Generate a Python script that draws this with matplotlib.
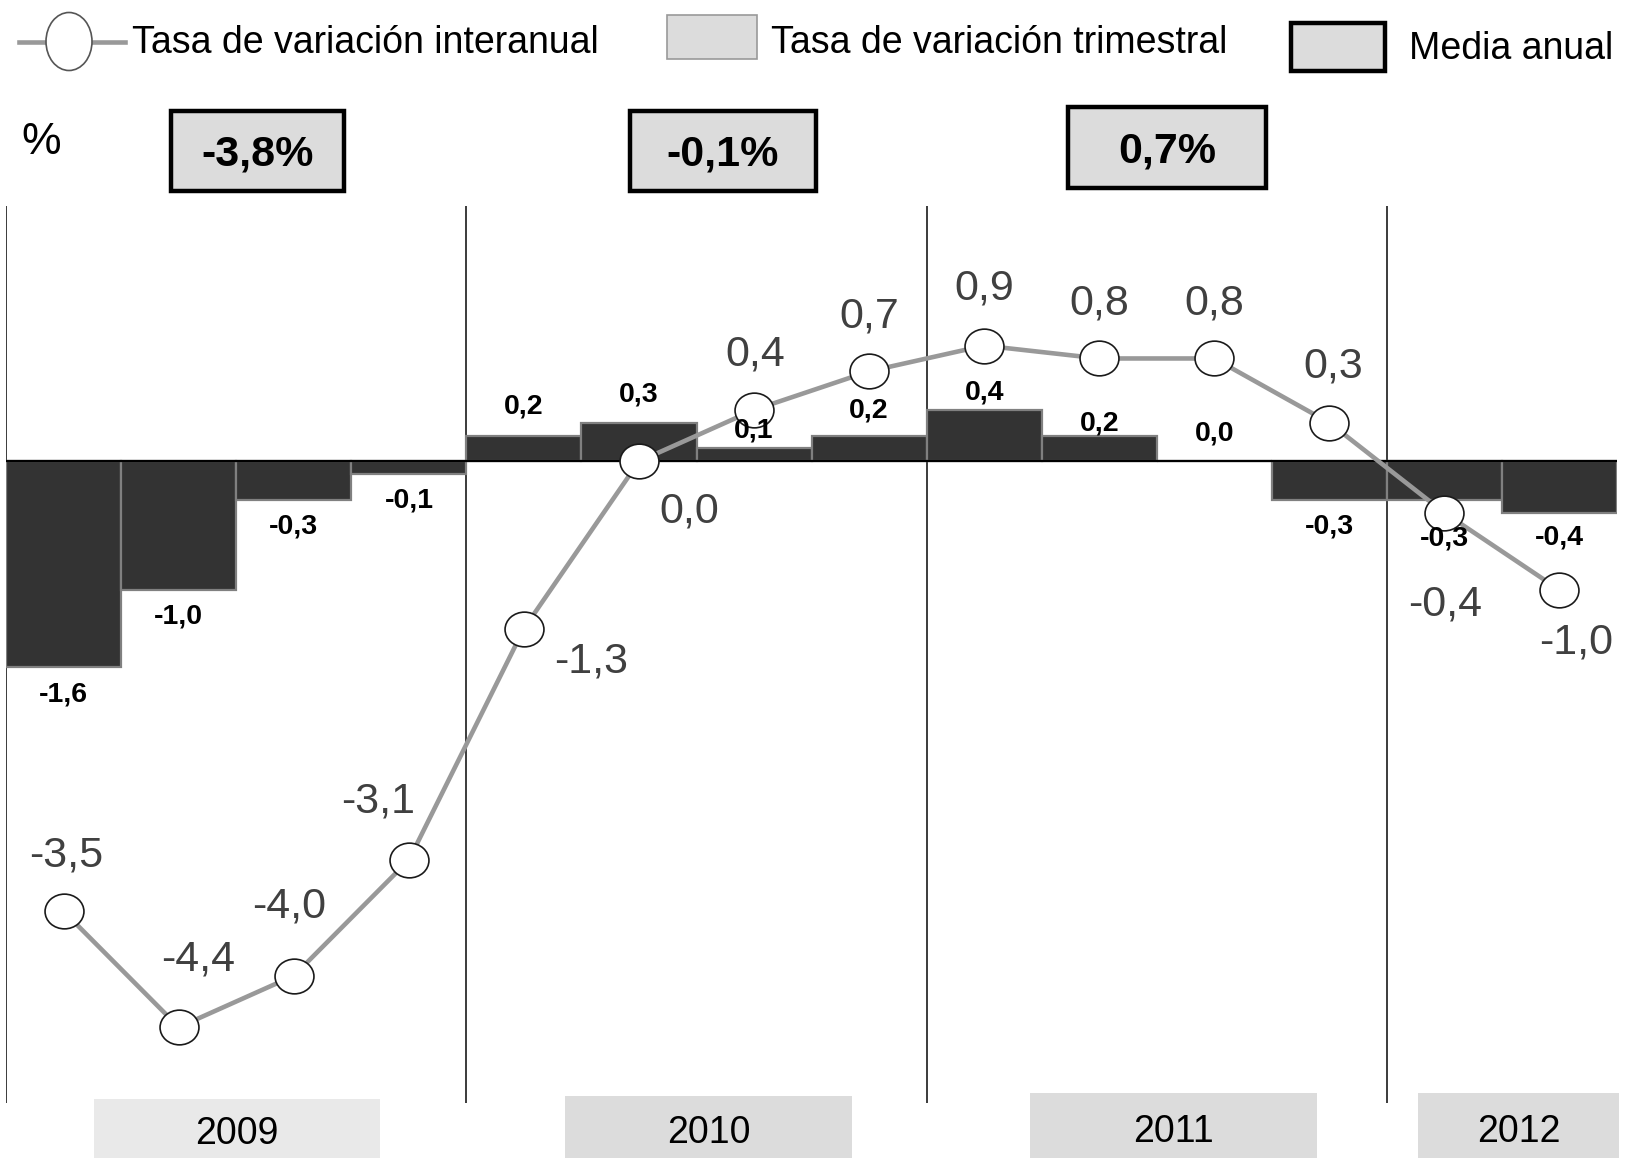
import matplotlib
matplotlib.use('Agg')
import matplotlib.pyplot as plt
from matplotlib.patches import Rectangle, Ellipse
from matplotlib.path import Path
from matplotlib.lines import Line2D
import numpy as np

plt.rcParams['font.family'] = ['Liberation Sans', 'DejaVu Sans']

# ---------------- data ----------------
quarters = ['2009-I', '2009-II', '2009-III', '2009-IV',
            '2010-I', '2010-II', '2010-III', '2010-IV',
            '2011-I', '2011-II', '2011-III', '2011-IV',
            '2012-I', '2012-II']
tasa_trimestral = [-1.6, -1.0, -0.3, -0.1, 0.2, 0.3, 0.1, 0.2, 0.4, 0.2, 0.0, -0.3, -0.3, -0.4]
tasa_interanual = [-3.5, -4.4, -4.0, -3.1, -1.3, 0.0, 0.4, 0.7, 0.9, 0.8, 0.8, 0.3, -0.4, -1.0]
years = ['2009', '2010', '2011', '2012']
quarters_per_year = [4, 4, 4, 2]
media_anual = [-3.8, -0.1, 0.7]
legend_labels = ['Tasa de variación interanual', 'Tasa de variación trimestral', 'Media anual']

W, H = 1629, 1158


def fmt(v):
    return f"{v:.1f}".replace('.', ',')


def fx(x):
    return x / W


def fy(y):
    return 1 - y / H


fig = plt.figure(figsize=(W / 100, H / 100), dpi=100)
fig.patch.set_facecolor('white')

ax = fig.add_axes([fx(6.2), fy(1103.3), (1617 - 6.2) / W, (1103.3 - 205.7) / H])
ax.set_xlim(-0.5, 13.5)
ax.set_ylim(-4.992, 1.988)
for s in ax.spines.values():
    s.set_visible(False)
ax.set_xticks([])
ax.set_yticks([])
ax.patch.set_alpha(0)

x = np.arange(len(quarters))

# year separators
bounds = np.concatenate([[0], np.cumsum(quarters_per_year)]) - 0.5
for b in bounds[:-1]:
    ax.axvline(b, color='#1a1a1a', lw=1.2, zorder=1)

# bars
ax.bar(x, tasa_trimestral, width=1.0, color='#333333', edgecolor='#808080',
       linewidth=1.6, zorder=2)
ax.axhline(0, color='black', lw=1.6, zorder=2.5)

# ellipse marker
circ = Path.unit_circle()
ell = Path(circ.vertices * np.array([1.12, 1.0]), circ.codes)

ax.plot(x, tasa_interanual, color='#999999', lw=3.3, zorder=3)
ax.plot(x, tasa_interanual, linestyle='none', marker=ell, markersize=28,
        markerfacecolor='white', markeredgecolor='#1a1a1a', markeredgewidth=1.2,
        zorder=4)

# bar labels: offsets (reference px) from bar end
k = 0.748
bar_off = [26, 26, 26, 25, -28, -27, -17, -24, -17, -12, -27, 26, 37, 24]
for xi, v, d in zip(x, tasa_trimestral, bar_off):
    ax.annotate(fmt(v), (xi, v), xytext=(0, -d * k), textcoords='offset points',
                ha='center', va='center', fontsize=20.5, fontweight='bold',
                color='black', zorder=5)

# line labels
line_off = [(2, -54), (19, -65), (-5, -67), (-30, -56), (65, 32), (48, 48),
            (1, -53), (0, -53), (0, -55), (0, -53), (0, -53), (4, -54),
            (1, 88), (16, 51)]
for xi, v, (dx, dy) in zip(x, tasa_interanual, line_off):
    ax.annotate(fmt(v), (xi, v), xytext=(dx * k, -dy * k), textcoords='offset points',
                ha='center', va='center', fontsize=31, color='#404040', zorder=5)

# annual mean boxes
mean_boxes = [(171, 111, 344, 191), (630, 111, 816, 191), (1068, 107, 1266, 188)]
for (x0, y0, x1, y1), m in zip(mean_boxes, media_anual):
    fig.patches.append(Rectangle((fx(x0), fy(y1)), (x1 - x0) / W, (y1 - y0) / H,
                                 transform=fig.transFigure, facecolor='#dcdcdc',
                                 edgecolor='black', linewidth=3.2, zorder=5))
    fig.text(fx((x0 + x1) / 2), fy((y0 + y1) / 2 + 4), fmt(m) + '%', ha='center',
             va='center', fontsize=31, fontweight='bold', color='black', zorder=6)

# year boxes at bottom
year_boxes = [(93.5, 1099, 380, 1160, '#e9e9e9'), (565, 1096, 852, 1160, '#dcdcdc'),
              (1030, 1093, 1317, 1160, '#dcdcdc'), (1418, 1093, 1619, 1160, '#dcdcdc')]
for (x0, y0, x1, y1, c), yr in zip(year_boxes, years):
    fig.patches.append(Rectangle((fx(x0), fy(y1)), (x1 - x0) / W, (y1 - y0) / H,
                                 transform=fig.transFigure, facecolor=c,
                                 edgecolor='none', zorder=5))
    fig.text(fx((x0 + x1) / 2), fy((y0 + 1158) / 2 + 6), yr, ha='center', va='center',
             fontsize=27, color='black', zorder=6)

# % label
fig.text(fx(41.5), fy(143), '%', ha='center', va='center', fontsize=32, color='black')

# legend
fig.add_artist(Line2D([fx(19), fx(125)], [fy(41.5), fy(41.5)], color='#999999', lw=3.3,
                      transform=fig.transFigure))
fig.patches.append(Ellipse((fx(69), fy(41.5)), 46 / W, 58 / H, transform=fig.transFigure,
                           facecolor='white', edgecolor='#555555', linewidth=1.2, zorder=5))
fig.text(fx(132), fy(43), legend_labels[0], ha='left', va='center', fontsize=27,
         color='black')
fig.patches.append(Rectangle((fx(667), fy(59)), 90 / W, 44.5 / H, transform=fig.transFigure,
                             facecolor='#dcdcdc', edgecolor='#999999', linewidth=1.2))
fig.text(fx(771), fy(43), legend_labels[1], ha='left', va='center', fontsize=27,
         color='black')
fig.patches.append(Rectangle((fx(1291), fy(71)), 94 / W, 48 / H, transform=fig.transFigure,
                             facecolor='#dcdcdc', edgecolor='black', linewidth=3.2))
fig.text(fx(1409), fy(49), legend_labels[2], ha='left', va='center', fontsize=27,
         color='black')

fig.savefig('out.png', dpi=100, facecolor='white')
